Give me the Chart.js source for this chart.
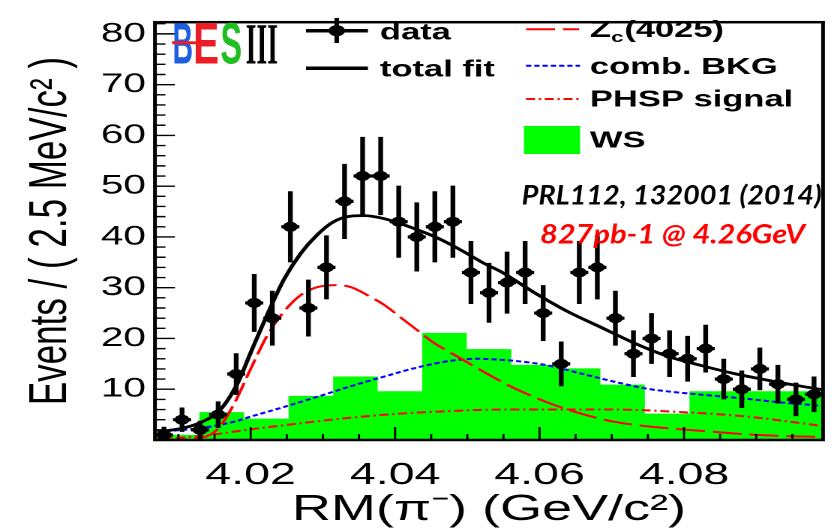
<!DOCTYPE html>
<html>
<head>
<meta charset="utf-8">
<script src="https://cdn.jsdelivr.net/npm/chart.js@4.4.0/dist/chart.umd.min.js"></script>
<style>
  html, body { margin: 0; padding: 0; background: #fff; overflow: hidden; }
  /* the reference picture is stretched sideways, so the chart is drawn narrow and stretched */
  #wrap { width: 557px; height: 531px; transform: scaleX(1.5); transform-origin: 0 0; }
</style>
</head>
<body>
<div id="wrap"><canvas id="c" width="557" height="531"></canvas></div>
<script>
// data points, RM(pi-) bin centres (GeV/c^2), 2.5 MeV bins
var binCenters = [4.008, 4.0105, 4.013, 4.0155, 4.018, 4.0205, 4.023, 4.0255, 4.028, 4.0305,
  4.033, 4.0355, 4.038, 4.0405, 4.043, 4.0455, 4.048, 4.0505, 4.053, 4.0555,
  4.058, 4.0605, 4.063, 4.0655, 4.068, 4.0705, 4.073, 4.0755, 4.078, 4.0805,
  4.083, 4.0855, 4.088, 4.0905, 4.093, 4.0955, 4.098];
var counts = [1, 4, 2, 5, 13, 27, 24, 42, 26, 34,
  47, 52, 52, 43, 40, 42, 43, 33, 29, 31,
  33, 25, 15, 33, 34, 24, 17, 20, 17, 16,
  18, 12, 10, 14, 11, 8, 9];
var countErr = [1.6, 2.4, 1.8, 2.6, 4.1, 5.7, 5.4, 7, 5.6, 6.3,
  7.4, 7.7, 7.7, 7.1, 6.8, 7, 7.1, 6.2, 5.9, 6.1,
  6.2, 5.5, 4.4, 6.2, 6.3, 5.4, 4.6, 5, 4.6, 4.5,
  4.7, 4, 3.7, 4.2, 3.8, 3.3, 3.5];
var BIN_W = 0.0025;

// wrong-sign histogram (WS)
var wsEdges = [4.00675, 4.01292, 4.01908, 4.02525, 4.03142, 4.03758, 4.04375, 4.04992,
  4.05608, 4.06225, 4.06842, 4.07458, 4.08075, 4.08692, 4.09308, 4.09925];
var wsValues = [1, 5.5, 4.2, 8.7, 12.5, 9.6, 21.1, 17.9, 14.8, 14.1, 10.9, 5.2, 9.6, 9.6, 9.6];

// total fit
var fitX = [4.0071, 4.0108, 4.0133, 4.0157, 4.0182, 4.0200, 4.0223, 4.0246, 4.0269, 4.0292,
  4.0315, 4.0339, 4.0357, 4.0385, 4.0408, 4.0431, 4.0454, 4.0477, 4.0500, 4.0523,
  4.0546, 4.0592, 4.0639, 4.0685, 4.0731, 4.0777, 4.0823, 4.0869, 4.0915, 4.0962, 4.0992];
var fitY = [1.6, 2.4, 3.6, 5.8, 11.2, 17.2, 24.7, 31.6, 36.7, 40.4,
  43.0, 44.1, 44.2, 43.6, 42.6, 41.4, 40.1, 38.5, 36.7, 34.8,
  33.2, 29.1, 25.3, 22.2, 19.1, 16.5, 14.7, 13.1, 11.8, 10.6, 9.9];

// Zc(4025) signal
var zcX = [4.0071, 4.0133, 4.0154, 4.0177, 4.0200, 4.0223, 4.0246, 4.0269, 4.0292, 4.0320,
  4.0339, 4.0362, 4.0385, 4.0408, 4.0431, 4.0454, 4.0477, 4.0500, 4.0523, 4.0546,
  4.0565, 4.0611, 4.0657, 4.0703, 4.0749, 4.0796, 4.0842, 4.0888, 4.0934, 4.0990];
var zcY = [0, 0.5, 2.1, 7.1, 14.0, 20.6, 25.3, 28.5, 30.1, 30.5,
  30.1, 28.5, 26.6, 24.1, 21.6, 19.1, 17.2, 15.3, 13.4, 11.6,
  10.2, 7.4, 5.2, 3.6, 2.7, 2.1, 1.6, 1.1, 0.8, 0.6];

// combinatorial background
var bkgX = [4.0071, 4.0133, 4.0177, 4.0200, 4.0246, 4.0292, 4.0339, 4.0385, 4.0431, 4.0477,
  4.0514, 4.0546, 4.0565, 4.0611, 4.0657, 4.0703, 4.0749, 4.0796, 4.0842, 4.0888,
  4.0934, 4.0985, 4.0992];
var bkgY = [1.6, 2.4, 3.6, 4.6, 6.5, 8.5, 10.6, 12.5, 14.3, 15.6,
  16.0, 15.8, 15.6, 14.7, 13.1, 11.5, 10.1, 9.3, 8.7, 8.1,
  7.4, 6.8, 6.7];

// PHSP signal
var phspX = [4.0071, 4.0133, 4.0200, 4.0269, 4.0339, 4.0408, 4.0477, 4.0546, 4.0611, 4.0703,
  4.0796, 4.0888, 4.0990];
var phspY = [0.2, 0.8, 2.1, 3.3, 4.4, 5.2, 5.7, 6.0, 6.0, 6.0, 5.5, 4.6, 2.8];

var FONT = "'Liberation Sans', Arial, sans-serif";

function pts(xs, ys) {
  return xs.map(function(v, i) { return {x: v, y: ys[i]}; });
}

function squeezeText(ctx, txt, x, y, w, font, color) {
  ctx.save();
  ctx.font = font;
  ctx.fillStyle = color;
  ctx.textAlign = 'left';
  ctx.textBaseline = 'alphabetic';
  var m = ctx.measureText(txt).width;
  ctx.translate(x, y);
  ctx.scale(w / m, 1);
  ctx.fillText(txt, 0, 0);
  ctx.restore();
}

function sampleLine(ctx, x0, x1, y, color, width, dash) {
  ctx.save();
  ctx.strokeStyle = color;
  ctx.lineWidth = width;
  ctx.setLineDash(dash || []);
  ctx.beginPath();
  ctx.moveTo(x0, y);
  ctx.lineTo(x1, y);
  ctx.stroke();
  ctx.restore();
}

var errorBars = {
  id: 'errorBars',
  afterDatasetsDraw: function(chart) {
    var ctx = chart.ctx, a = chart.chartArea, x = chart.scales.x, y = chart.scales.y;
    ctx.save();
    ctx.beginPath();
    ctx.rect(a.left, a.top, a.right - a.left, a.bottom - a.top);
    ctx.clip();
    ctx.strokeStyle = '#000';
    ctx.lineWidth = 3.2;
    ctx.beginPath();
    binCenters.forEach(function(xv, i) {
      var px = x.getPixelForValue(xv);
      var py = y.getPixelForValue(counts[i]);
      ctx.moveTo(px, y.getPixelForValue(counts[i] - countErr[i]));
      ctx.lineTo(px, y.getPixelForValue(counts[i] + countErr[i]));
      ctx.moveTo(x.getPixelForValue(xv - BIN_W / 2), py);
      ctx.lineTo(x.getPixelForValue(xv + BIN_W / 2), py);
    });
    ctx.stroke();
    ctx.restore();
  }
};

var frameTicks = {
  id: 'frameTicks',
  afterDraw: function(chart) {
    var ctx = chart.ctx, a = chart.chartArea, x = chart.scales.x, y = chart.scales.y;
    ctx.save();
    ctx.strokeStyle = '#000';
    ctx.lineWidth = 1.4;
    ctx.beginPath();
    x.ticks.forEach(function(t) {
      var px = x.getPixelForValue(t.value);
      var len = t.label ? 13 : 6;
      ctx.moveTo(px, a.bottom);
      ctx.lineTo(px, a.bottom - len);
    });
    y.ticks.forEach(function(t) {
      if (t.value <= 0) return;
      var py = y.getPixelForValue(t.value);
      var len = t.label ? 13.3 : 7;
      ctx.moveTo(a.left, py);
      ctx.lineTo(a.left + len, py);
    });
    ctx.stroke();
    ctx.lineWidth = 2.5;
    ctx.strokeRect(a.left, a.top, a.right - a.left, a.bottom - a.top);
    ctx.restore();
  }
};

var legendAndNotes = {
  id: 'legendAndNotes',
  afterDraw: function(chart) {
    var ctx = chart.ctx;
    ctx.save();

    // BESIII logo
    squeezeText(ctx, 'B', 115, 63.3, 13.7, 'bold 58px ' + FONT, '#1d5fe0');
    squeezeText(ctx, 'E', 128.7, 63.3, 17.3, 'bold 58px ' + FONT, '#ee1c25');
    squeezeText(ctx, 'S', 147, 63.3, 14.3, 'bold 58px ' + FONT, '#1fbf1f');
    squeezeText(ctx, 'III', 163.8, 63.3, 21.5, "bold 58px 'Liberation Serif', serif", '#000');
    sampleLine(ctx, 114.7, 135, 42.7, '#ee1c25', 3);

    // left legend column
    sampleLine(ctx, 204, 245.3, 30.7, '#000', 3.5);
    ctx.beginPath();
    ctx.moveTo(224.5, 18);
    ctx.lineTo(224.5, 43);
    ctx.lineWidth = 3;
    ctx.strokeStyle = '#000';
    ctx.stroke();
    ctx.beginPath();
    ctx.arc(224.5, 30.7, 5.5, 0, Math.PI * 2);
    ctx.fillStyle = '#000';
    ctx.fill();
    sampleLine(ctx, 204, 245.3, 68.3, '#000', 3.5);

    ctx.fillStyle = '#000';
    ctx.textAlign = 'left';
    ctx.textBaseline = 'alphabetic';
    ctx.font = 'bold 23px ' + FONT;
    ctx.fillText('data', 253.3, 39.5);
    ctx.fillText('total fit', 253.3, 76.5);

    // right legend column
    sampleLine(ctx, 350.7, 386, 29.3, '#ff0000', 2, [19.3, 5.3]);
    sampleLine(ctx, 350.7, 386.7, 65.7, '#0000ff', 2, [3.5, 2]);
    sampleLine(ctx, 350.7, 386.7, 99, '#ff0000', 2, [6, 2.5, 1.5, 2.5]);
    ctx.fillStyle = '#00ff00';
    ctx.fillRect(349.3, 126, 37.4, 28);

    ctx.fillStyle = '#000';
    ctx.font = 'bold 23px ' + FONT;
    ctx.fillText('Z', 393.3, 37);
    var zw = ctx.measureText('Z').width;
    ctx.font = 'bold 15px ' + FONT;
    ctx.fillText('c', 393.3 + zw, 42);
    var cw = ctx.measureText('c').width;
    ctx.font = 'bold 23px ' + FONT;
    ctx.fillText('(4025)', 393.3 + zw + cw + 0.5, 37);
    ctx.fillText('comb. BKG', 393.3, 74);
    ctx.fillText('PHSP signal', 393.3, 106.5);
    ctx.fillText('WS', 393.3, 147.3);

    // publication notes
    squeezeText(ctx, 'PRL112, 132001 (2014)', 347.8, 204.3, 200, "italic bold 27px Lato, 'Open Sans', sans-serif", '#000');
    squeezeText(ctx, '827pb-1 @ 4.26GeV', 360, 243.3, 176.7, "italic bold 27px Lato, 'Open Sans', sans-serif", '#ff0000');

    ctx.restore();
  }
};

new Chart(document.getElementById('c'), {
  type: 'scatter',
  data: {
    datasets: [
      {
        label: 'data',
        data: pts(binCenters, counts),
        pointRadius: 5,
        pointHoverRadius: 5,
        pointBackgroundColor: '#000',
        pointBorderWidth: 0,
        order: 0
      },
      {
        label: 'total fit',
        type: 'line',
        data: pts(fitX, fitY),
        borderColor: '#000',
        borderWidth: 2.8,
        pointRadius: 0,
        cubicInterpolationMode: 'monotone',
        fill: false,
        order: 1
      },
      {
        label: 'Zc(4025)',
        type: 'line',
        data: pts(zcX, zcY),
        borderColor: '#ff0000',
        borderWidth: 2,
        borderDash: [19.3, 5.3],
        pointRadius: 0,
        cubicInterpolationMode: 'monotone',
        fill: false,
        order: 2
      },
      {
        label: 'comb. BKG',
        type: 'line',
        data: pts(bkgX, bkgY),
        borderColor: '#0000ff',
        borderWidth: 2,
        borderDash: [3.5, 2],
        pointRadius: 0,
        cubicInterpolationMode: 'monotone',
        fill: false,
        order: 3
      },
      {
        label: 'PHSP signal',
        type: 'line',
        data: pts(phspX, phspY),
        borderColor: '#ff0000',
        borderWidth: 2,
        borderDash: [6, 2.5, 1.5, 2.5],
        pointRadius: 0,
        cubicInterpolationMode: 'monotone',
        fill: false,
        order: 4
      },
      {
        label: 'WS',
        type: 'line',
        data: wsEdges.map(function(e, i) { return {x: e, y: wsValues[Math.min(i, wsValues.length - 1)]}; }),
        stepped: 'before',
        fill: 'origin',
        backgroundColor: '#00ff00',
        borderColor: 'rgba(0,0,0,0)',
        borderWidth: 0,
        pointRadius: 0,
        order: 5
      }
    ]
  },
  options: {
    responsive: false,
    animation: false,
    devicePixelRatio: 2,
    layout: { autoPadding: false, padding: { top: 5, right: 8.3, left: 0, bottom: 0 } },
    plugins: { legend: { display: false }, tooltip: { enabled: false } },
    scales: {
      x: {
        type: 'linear',
        min: 4.00675,
        max: 4.09925,
        afterFit: function(s) { s.height = 91; },
        grid: { display: false, drawTicks: false },
        border: { display: false },
        ticks: {
          stepSize: 0.005,
          includeBounds: false,
          autoSkip: false,
          maxRotation: 0,
          padding: 17,
          color: '#000',
          font: { family: FONT, size: 31 },
          callback: function(v) {
            return Math.round(v * 1000) % 20 === 0 ? v.toFixed(2) : '';
          }
        },
        title: {
          display: true,
          text: 'RM(π⁻) (GeV/c²)',
          color: '#000',
          font: { family: FONT, size: 36, lineHeight: 1 },
          padding: { top: 0, bottom: 3 }
        }
      },
      y: {
        min: 0,
        max: 82.3,
        afterFit: function(s) { s.width = 103.3; },
        grid: { display: false, drawTicks: false },
        border: { display: false },
        ticks: {
          stepSize: 2,
          includeBounds: false,
          autoSkip: false,
          padding: 6,
          color: '#000',
          font: { family: FONT, size: 27 },
          callback: function(v) { return (v > 0 && v % 10 === 0) ? String(v) : ''; }
        },
        title: {
          display: true,
          text: 'Events / ( 2.5 MeV/c² )',
          color: '#000',
          font: { family: FONT, size: 35, lineHeight: 1 },
          padding: { top: 17, bottom: 0 }
        }
      }
    }
  },
  plugins: [errorBars, frameTicks, legendAndNotes]
});
</script>
</body>
</html>
